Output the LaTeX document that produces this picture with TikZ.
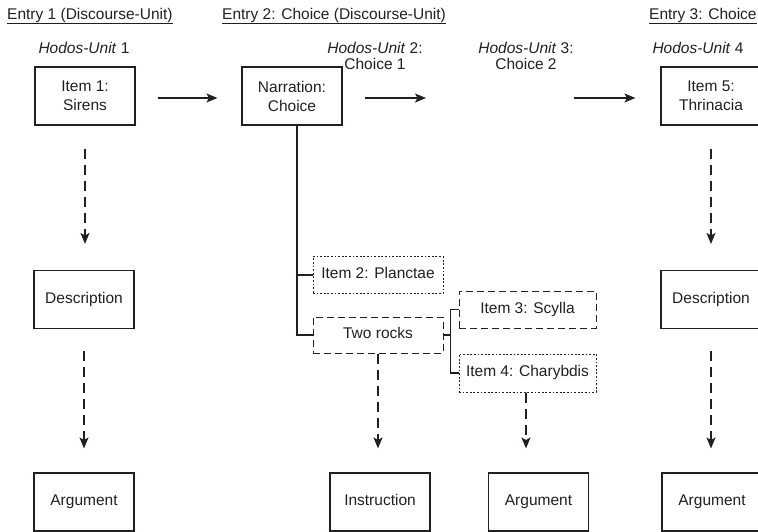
\documentclass[tikz,border=0pt]{standalone}
\usepackage{fontspec}
\setmainfont{Liberation Sans}
\usetikzlibrary{arrows.meta}
\definecolor{ink}{HTML}{231F20}
\tikzset{
  txt/.style={inner sep=0pt, text=ink, font=\fontsize{15.5}{16.5}\selectfont},
  solidbox/.style={draw=ink, line width=1.1pt, align=center, inner sep=0pt,
     minimum width=100pt, minimum height=58pt, text=ink, font=\fontsize{15.5}{19}\selectfont},
  onel/.style={text height=11pt, text depth=3.5pt},
  dashbox/.style={solidbox, onel, line width=1pt, dash pattern=on 7pt off 4pt, minimum height=36pt},
  dotbox/.style={solidbox, onel, line width=1pt, dash pattern=on 1.8pt off 1.8pt, minimum height=37pt},
  tip/.style={-{Stealth[length=11pt,width=9pt,inset=2.5pt]}},
  flow/.style={draw=ink, line width=1.1pt, tip},
  dflow/.style={draw=ink, line width=1.1pt, tip, dash pattern=on 10pt off 6pt},
  tree/.style={draw=ink, line width=1.1pt},
}
\begin{document}
\begin{tikzpicture}[x=1pt,y=-1pt]
\useasboundingbox (0,0) rectangle (758,531);
\clip (0,0) rectangle (758,531);

% headings
\node[txt, anchor=base west] (e1) at (7,19) {\underline{Entry 1 (Discourse-Unit)}};
\node[txt, anchor=base west] (e2) at (222,19) {\underline{Entry 2: Choice (Discourse-Unit)}};
\node[txt, anchor=base west] (e3) at (649,19) {\underline{Entry 3: Choice}};

% hodos labels
\node[txt, anchor=base] (h1) at (84,53) {\textit{Hodos-Unit} 1};
\node[txt, anchor=base, align=center] (h2) at (375,69.5) {\textit{Hodos-Unit} 2:\\Choice 1};
\node[txt, anchor=base, align=center] (h3) at (526,69.5) {\textit{Hodos-Unit} 3:\\Choice 2};
\node[txt, anchor=base] (h4) at (698,53) {\textit{Hodos-Unit} 4};

% top row
\node[solidbox] (sirens) at (85,96) {Item 1:\\Sirens};
\node[solidbox] (narr) at (292,96) {Narration:\\Choice};
\node[solidbox] (thrin) at (711,96) {Item 5:\\Thrinacia};

% middle row
\node[solidbox, onel] (desc1) at (84,299.5) {Description};
\node[solidbox, onel] (desc2) at (711,299.5) {Description};

\node[dotbox, minimum width=130pt] (planc) at (378,275) {Item 2: Planctae};
\node[dashbox, minimum width=130pt] (rocks) at (378,335) {Two rocks};
\node[dashbox, minimum width=137pt, minimum height=37pt] (scylla) at (527.5,309.5) {Item 3: Scylla};
\node[dotbox, minimum width=137pt, minimum height=38pt] (charyb) at (527.5,373) {Item 4: Charybdis};

% bottom row
\node[solidbox, onel] (arg1) at (84,502) {Argument};
\node[solidbox, onel] (instr) at (380,502) {Instruction};
\node[solidbox, onel] (arg2) at (538.5,502) {Argument};
\node[solidbox, onel] (arg3) at (712,502) {Argument};

% horizontal arrows
\coordinate (a2s) at (365,98);
\coordinate (a2e) at (426,98);
\coordinate (a3s) at (574,98);
\draw[flow, shorten <=22pt, shorten >=24pt] (sirens.east |- a2s) -- (narr.west |- a2s);
\draw[flow] (a2s) -- (a2e);
\draw[flow, shorten >=25pt] (a3s) -- (thrin.west |- a3s);

% dashed vertical arrows
\draw[dflow, shorten <=23pt, shorten >=26pt] (sirens.south) -- (sirens.south |- desc1.north);
\draw[dflow, shorten <=22pt, shorten >=24pt] (desc1.south) -- (desc1.south |- arg1.north);
\draw[dflow, shorten <=23pt, shorten >=26pt] (thrin.south) -- (thrin.south |- desc2.north);
\draw[dflow, shorten <=22pt, shorten >=24pt] (desc2.south) -- (desc2.south |- arg3.north);
\draw[dflow, shorten >=24pt] (rocks.south) -- (rocks.south |- instr.north);
\coordinate (cb) at ([xshift=-1.5pt]charyb.south);
\draw[dflow, shorten >=24pt] (cb) -- (cb |- arg2.north);

% tree
\coordinate (trunk) at (297,0);
\draw[tree] (trunk |- narr.south) -- (trunk |- rocks.west) -- (rocks.west);
\draw[tree] (trunk |- planc.west) -- (planc.west);
\draw[tree] (rocks.east) -- ++(7,0) coordinate (br);
\draw[tree] (scylla.west) -- (br |- scylla.west) -- (br |- charyb.west) -- (charyb.west);
\end{tikzpicture}
\end{document}
